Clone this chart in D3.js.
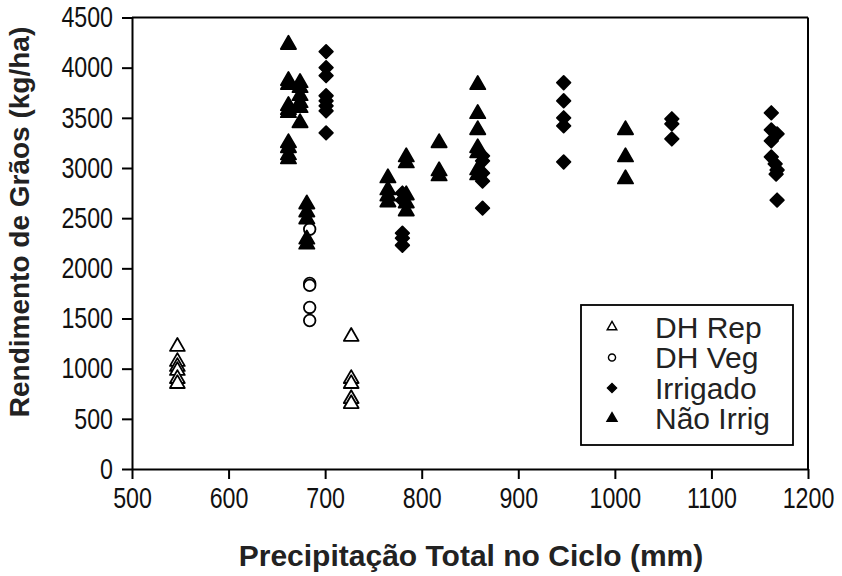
<!DOCTYPE html>
<html>
<head>
<meta charset="utf-8">
<script src="https://cdn.jsdelivr.net/npm/d3@7"></script>
<style>
  body { margin: 0; background: #fff; }
  svg { font-family: "Liberation Sans", Arial, sans-serif; }
</style>
</head>
<body>
<svg id="chart" width="842" height="576"></svg>
<script>
// series: [precipitation (mm), yield (kg/ha)]
const dhRep = [
  [547, 1220], [547, 1070], [547, 1020], [547, 980], [547, 900], [547, 850],
  [727, 1320], [727, 900], [727, 850], [727, 700], [727, 650]
];
const dhVeg = [
  [684, 2390], [684, 1850], [684, 1830], [684, 1610], [684, 1480]
];
const irrigado = [
  [701, 4160], [701, 4000], [701, 3920], [701, 3720], [701, 3670], [701, 3620], [701, 3570], [701, 3350],
  [780, 2750], [780, 2680], [780, 2350], [780, 2300], [780, 2230],
  [863, 3120], [863, 3070], [863, 2950], [863, 2870], [863, 2600],
  [947, 3850], [947, 3670], [947, 3500], [947, 3420], [947, 3060],
  [1059, 3490], [1059, 3440], [1059, 3290],
  [1162, 3550], [1162, 3380], [1168, 3340], [1162, 3270], [1162, 3110],
  [1166, 3040], [1168, 2980], [1167, 2940], [1168, 2680]
];
const naoIrrig = [
  [662, 4230], [662, 3870], [662, 3830], [662, 3620], [662, 3580], [662, 3550],
  [662, 3250], [662, 3200], [662, 3130], [662, 3090],
  [674, 3850], [674, 3800], [674, 3720], [674, 3650], [674, 3600], [674, 3450],
  [681, 2640], [681, 2560], [681, 2490], [681, 2290], [681, 2240],
  [765, 2900], [765, 2780], [765, 2720], [765, 2660],
  [784, 3110], [784, 3050], [784, 2730], [784, 2650], [784, 2570],
  [818, 3250], [818, 2970], [818, 2920],
  [858, 3830], [858, 3540], [858, 3380], [858, 3200], [858, 3150], [858, 2980], [858, 2930],
  [1011, 3380], [1011, 3110], [1011, 2890]
];
const xTicks = [500, 600, 700, 800, 900, 1000, 1100, 1200];
const yTicks = [0, 500, 1000, 1500, 2000, 2500, 3000, 3500, 4000, 4500];
const legendLabels = ["DH Rep", "DH Veg", "Irrigado", "Não Irrig"];

const margin = { top: 17.5, right: 34, bottom: 107, left: 132 };
const width = 842 - margin.left - margin.right;
const height = 576 - margin.top - margin.bottom;

const svg = d3.select("#chart");
const g = svg.append("g").attr("transform", `translate(${margin.left},${margin.top})`);

const x = d3.scaleLinear().domain([500, 1200]).range([0, width]);
const y = d3.scaleLinear().domain([0, 4500]).range([height, 0]);

// marker shapes
const triPath = (s) => d3.symbol(d3.symbolTriangle, s)();
const diaPath = (s) => d3.symbol(d3.symbolSquare, s)();
const circPath = (s) => d3.symbol(d3.symbolCircle, s)();

const styles = [
  { path: triPath(95), fill: "#fff", rot: 0, legend: triPath(40) },
  { path: circPath(105), fill: "#fff", rot: 0, legend: circPath(40) },
  { path: diaPath(92), fill: "#000", rot: 45, legend: diaPath(42) },
  { path: triPath(100), fill: "#000", rot: 0, legend: triPath(44) }
];
const series = [dhRep, dhVeg, irrigado, naoIrrig];

// frame (top and right)
g.append("line").attr("x1", 0).attr("x2", width).attr("y1", 0).attr("y2", 0)
  .attr("stroke", "#000").attr("stroke-width", 2);
g.append("line").attr("x1", width).attr("x2", width).attr("y1", 0).attr("y2", height)
  .attr("stroke", "#000").attr("stroke-width", 2);

// axes
const xAxis = g.append("g")
  .attr("transform", `translate(0,${height})`)
  .call(d3.axisBottom(x).tickValues(xTicks).tickFormat(d3.format("d"))
    .tickSize(10).tickPadding(8).tickSizeOuter(0));
const yAxis = g.append("g")
  .call(d3.axisLeft(y).tickValues(yTicks).tickFormat(d3.format("d"))
    .tickSize(10).tickPadding(9).tickSizeOuter(0));

[xAxis, yAxis].forEach(a => {
  a.select(".domain").attr("stroke-width", 2);
  a.selectAll(".tick line").attr("stroke-width", 2);
  a.selectAll(".tick text")
    .attr("font-size", 29)
    .attr("fill", "#111")
    .attr("font-family", "Liberation Sans, Arial, sans-serif");
});
xAxis.selectAll(".tick text").attr("transform", "scale(0.8,1)");
yAxis.selectAll(".tick text").attr("transform", "scale(0.8,1)")
  .attr("x", -19 / 0.8);

// points
series.forEach((data, i) => {
  const st = styles[i];
  g.append("g").selectAll("path")
    .data(data)
    .join("path")
    .attr("d", st.path)
    .attr("transform", d => `translate(${x(d[0])},${y(d[1])}) rotate(${st.rot})`)
    .attr("fill", st.fill)
    .attr("stroke", "#000")
    .attr("stroke-width", 1.8)
    .attr("stroke-linejoin", "round");
});

// axis titles
svg.append("text")
  .attr("x", 471).attr("y", 566)
  .attr("text-anchor", "middle")
  .attr("font-size", 30).attr("font-weight", "bold").attr("fill", "#222")
  .text("Precipitação Total no Ciclo (mm)");
svg.append("text")
  .attr("transform", "translate(29,222) rotate(-90)")
  .attr("text-anchor", "middle")
  .attr("font-size", 28).attr("font-weight", "bold").attr("fill", "#222")
  .text("Rendimento de Grãos (kg/ha)");

// legend
const legend = svg.append("g").attr("transform", "translate(581,305)");
legend.append("rect")
  .attr("width", 212).attr("height", 140)
  .attr("fill", "#fff").attr("stroke", "#000").attr("stroke-width", 1.8);
legendLabels.forEach((lab, i) => {
  const st = styles[i];
  const row = legend.append("g").attr("transform", `translate(0,${22 + i * 30.5})`);
  row.append("path")
    .attr("d", st.legend)
    .attr("transform", `translate(31,0) rotate(${st.rot})`)
    .attr("fill", st.fill).attr("stroke", "#000").attr("stroke-width", 1.4);
  row.append("text")
    .attr("x", 74).attr("y", 0).attr("dy", "0.36em")
    .attr("font-size", 30).attr("fill", "#222")
    .text(lab);
});
</script>
</body>
</html>
